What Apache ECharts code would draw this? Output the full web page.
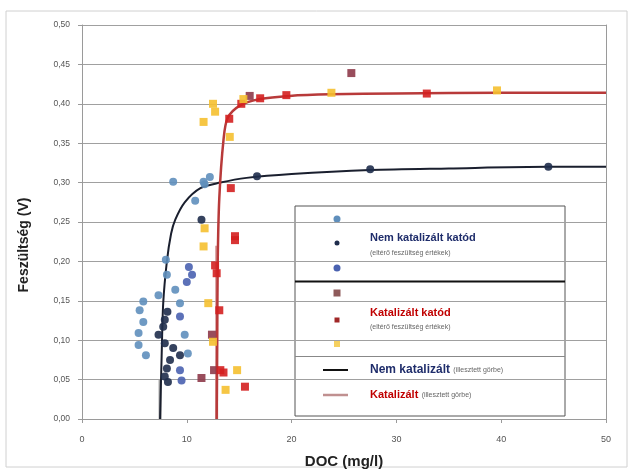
<!DOCTYPE html>
<html>
<head>
<meta charset="utf-8">
<script src="https://cdn.jsdelivr.net/npm/echarts@6/dist/echarts.min.js"></script>
<style>
  html, body { margin: 0; padding: 0; background: #fff; }
  #chart { width: 630px; height: 470px; }
</style>
</head>
<body>
<div id="chart"></div>
<script>
// x tengely / y tengely
const xTicks = [0, 10, 20, 30, 40, 50];
const yTicks = [0, 0.05, 0.1, 0.15, 0.2, 0.25, 0.3, 0.35, 0.4, 0.45, 0.5];

// Nem katalizált katód (3 sorozat) [DOC, feszültség]
const nemKat1 = [
  [5.4, 0.109], [5.4, 0.094], [5.5, 0.138], [5.85, 0.149], [5.85, 0.123], [6.1, 0.081],
  [7.3, 0.157], [8.0, 0.202], [8.1, 0.183], [8.7, 0.301], [8.9, 0.164], [9.35, 0.147],
  [9.8, 0.107], [10.1, 0.083], [10.8, 0.277], [11.6, 0.301], [11.7, 0.298], [12.2, 0.307]
];
const nemKat2 = [
  [7.3, 0.107], [7.75, 0.117], [7.9, 0.126], [7.9, 0.096], [7.9, 0.054], [8.1, 0.064],
  [8.15, 0.136], [8.2, 0.047], [8.4, 0.075], [8.7, 0.090], [9.35, 0.081], [11.4, 0.253],
  [16.7, 0.308], [27.5, 0.317], [44.5, 0.320]
];
const nemKat3 = [
  [9.35, 0.130], [9.35, 0.062], [9.5, 0.049], [10.0, 0.174], [10.2, 0.193], [10.5, 0.183]
];

// Katalizált katód (3 sorozat)
const kat1 = [
  [11.4, 0.052], [12.4, 0.107], [12.6, 0.062], [16.0, 0.410], [25.7, 0.439]
];
const kat2 = [
  [12.7, 0.195], [12.85, 0.185], [13.1, 0.138], [13.2, 0.062], [13.5, 0.059], [14.05, 0.381],
  [14.2, 0.293], [14.6, 0.227], [14.6, 0.232], [15.2, 0.400], [15.55, 0.041], [17.0, 0.407],
  [19.5, 0.411], [32.9, 0.413]
];
const kat3 = [
  [11.6, 0.377], [11.6, 0.219], [11.7, 0.242], [12.05, 0.147], [12.5, 0.400], [12.5, 0.098],
  [12.7, 0.390], [13.7, 0.037], [14.1, 0.358], [14.8, 0.062], [15.4, 0.406], [23.8, 0.414],
  [39.6, 0.417]
];

// illesztett görbék (leolvasott pontok)
const gorbeNemKat = [
  [7.45, 0], [7.6, 0.08], [7.75, 0.147], [8.1, 0.2], [8.5, 0.235], [8.9, 0.253], [9.8, 0.275],
  [11.3, 0.293], [13.2, 0.300], [15.7, 0.306], [20, 0.311], [27.5, 0.316], [35, 0.318],
  [44.5, 0.320], [50, 0.320]
];
const gorbeKat = [
  [12.85, 0], [12.9, 0.1], [12.95, 0.2], [13.1, 0.28], [13.5, 0.354], [13.9, 0.382],
  [15.1, 0.398], [17.0, 0.406], [19.8, 0.410], [23.7, 0.412], [30, 0.413], [40, 0.414],
  [50, 0.414]
];
const aszimptotaNemKat = [[7.45, 0], [7.45, 0.05]];
const aszimptotaKat = [[12.85, 0], [12.85, 0.22]];

let myChart = echarts.init(document.getElementById('chart'));

function scatter(name, data, symbol, size, color) {
  return {
    name: name, type: 'scatter', data: data, symbol: symbol, symbolSize: size,
    itemStyle: { color: color, opacity: 0.9 }, z: 3
  };
}

const options = {
  animation: false,
  grid: { left: 82, right: 24, top: 25, bottom: 51, containLabel: false, outerBoundsMode: 'none' },
  xAxis: {
    type: 'value', min: xTicks[0], max: xTicks[xTicks.length - 1], interval: 10,
    splitLine: { show: false },
    axisLine: { lineStyle: { color: '#9a9a9a', width: 1 } },
    axisTick: { show: true, length: 4, lineStyle: { color: '#9a9a9a' } },
    axisLabel: { fontSize: 9, color: '#555', margin: 16, fontFamily: 'Liberation Sans' },
    name: 'DOC (mg/l)', nameLocation: 'middle', nameGap: 35,
    nameTextStyle: { fontSize: 15, fontWeight: 'bold', color: '#222', fontFamily: 'Liberation Sans' }
  },
  yAxis: [{
    type: 'value', min: yTicks[0], max: yTicks[yTicks.length - 1], interval: 0.05,
    splitLine: { lineStyle: { color: '#a0a0a0', width: 1 } },
    axisLine: { show: true, lineStyle: { color: '#9a9a9a' } },
    axisTick: { show: true, length: 4, lineStyle: { color: '#9a9a9a' } },
    axisLabel: {
      fontSize: 8.5, color: '#555', margin: 12, fontFamily: 'Liberation Sans',
      formatter: function (v) { return v.toFixed(2).replace('.', ','); }
    }
  }, {
    type: 'value', position: 'right', min: 0, max: 0.5, interval: 0.05,
    splitLine: { show: false }, axisTick: { show: false }, axisLabel: { show: false },
    axisLine: { show: true, lineStyle: { color: '#9a9a9a' } }
  }],
  series: [
    {
      name: 'aszimptota1', type: 'line', data: aszimptotaNemKat, symbol: 'none',
      lineStyle: { color: '#a0a0a0', width: 3 }, z: 1
    },
    {
      name: 'aszimptota2', type: 'line', data: aszimptotaKat, symbol: 'none',
      lineStyle: { color: '#d49a9a', width: 3 }, z: 1
    },
    {
      name: 'Nem katalizált', type: 'line', data: gorbeNemKat, symbol: 'none', smooth: 0.3,
      lineStyle: { color: '#1a1f2e', width: 2 }, z: 2
    },
    {
      name: 'Katalizált', type: 'line', data: gorbeKat, symbol: 'none', smooth: 0.3,
      lineStyle: { color: '#b83a3a', width: 2.5 }, z: 2
    },
    scatter('nk1', nemKat1, 'circle', 8, '#5f8fbc'),
    scatter('nk2', nemKat2, 'circle', 8, '#1f2d4d'),
    scatter('nk3', nemKat3, 'circle', 8, '#4a62b0'),
    scatter('k1', kat1, 'rect', 8, '#8e3a4a'),
    scatter('k2', kat2, 'rect', 8, '#d42020'),
    scatter('k3', kat3, 'rect', 8, '#f5c030')
  ],
  graphic: [
    // külső keret
    { type: 'rect', shape: { x: 6, y: 11, width: 621, height: 456 }, style: { fill: 'none', stroke: '#d0d0d0', lineWidth: 1 }, z: -1 },
    // y tengely neve
    {
      type: 'text', x: 24, y: 245, rotation: Math.PI / 2, z: 10,
      style: { text: 'Feszültség (V)', fontSize: 14, fontWeight: 'bold', fill: '#222', fontFamily: 'Liberation Sans', align: 'center', verticalAlign: 'middle' }
    },
    // jelmagyarázat
    {
      type: 'group', z: 20,
      children: [
        { type: 'rect', shape: { x: 295, y: 206, width: 270, height: 210 }, style: { fill: '#fff', stroke: '#555', lineWidth: 1 } },
        { type: 'line', shape: { x1: 295, y1: 281.5, x2: 565, y2: 281.5 }, style: { stroke: '#111', lineWidth: 2 } },
        { type: 'line', shape: { x1: 295, y1: 356.5, x2: 565, y2: 356.5 }, style: { stroke: '#888', lineWidth: 1 } },
        { type: 'circle', shape: { cx: 337, cy: 219, r: 3.5 }, style: { fill: '#5f8fbc' } },
        { type: 'circle', shape: { cx: 337, cy: 243, r: 2.5 }, style: { fill: '#1f2d4d' } },
        { type: 'circle', shape: { cx: 337, cy: 268, r: 3.5 }, style: { fill: '#4a62b0' } },
        { type: 'rect', shape: { x: 333.5, y: 289.5, width: 7, height: 7 }, style: { fill: '#8e5a5a' } },
        { type: 'rect', shape: { x: 334.5, y: 317.5, width: 5, height: 5 }, style: { fill: '#a02828' } },
        { type: 'rect', shape: { x: 334, y: 341, width: 6, height: 6 }, style: { fill: '#f5d060' } },
        { type: 'text', x: 370, y: 238, style: { text: 'Nem katalizált katód', fontSize: 11, fontWeight: 'bold', fill: '#1f2d6b', fontFamily: 'Liberation Sans', verticalAlign: 'middle' } },
        { type: 'text', x: 370, y: 253, style: { text: '(eltérő feszültség értékek)', fontSize: 7, fill: '#666', fontFamily: 'Liberation Sans', verticalAlign: 'middle' } },
        { type: 'text', x: 370, y: 313, style: { text: 'Katalizált katód', fontSize: 11, fontWeight: 'bold', fill: '#c00000', fontFamily: 'Liberation Sans', verticalAlign: 'middle' } },
        { type: 'text', x: 370, y: 327, style: { text: '(eltérő feszültség értékek)', fontSize: 7, fill: '#666', fontFamily: 'Liberation Sans', verticalAlign: 'middle' } },
        { type: 'line', shape: { x1: 323, y1: 370, x2: 348, y2: 370 }, style: { stroke: '#111', lineWidth: 2 } },
        { type: 'line', shape: { x1: 323, y1: 395, x2: 348, y2: 395 }, style: { stroke: '#c09090', lineWidth: 2.5 } },
        {
          type: 'text', x: 370, y: 370,
          style: {
            text: '{a|Nem katalizált} {b|(illesztett görbe)}', verticalAlign: 'middle', fontFamily: 'Liberation Sans',
            rich: { a: { fontSize: 12, fontWeight: 'bold', fill: '#1f2d6b' }, b: { fontSize: 7, fill: '#666' } }
          }
        },
        {
          type: 'text', x: 370, y: 395,
          style: {
            text: '{a|Katalizált} {b|(illesztett görbe)}', verticalAlign: 'middle', fontFamily: 'Liberation Sans',
            rich: { a: { fontSize: 11, fontWeight: 'bold', fill: '#c00000' }, b: { fontSize: 7, fill: '#666' } }
          }
        }
      ]
    }
  ]
};

myChart.setOption(options, true);
</script>
</body>
</html>
